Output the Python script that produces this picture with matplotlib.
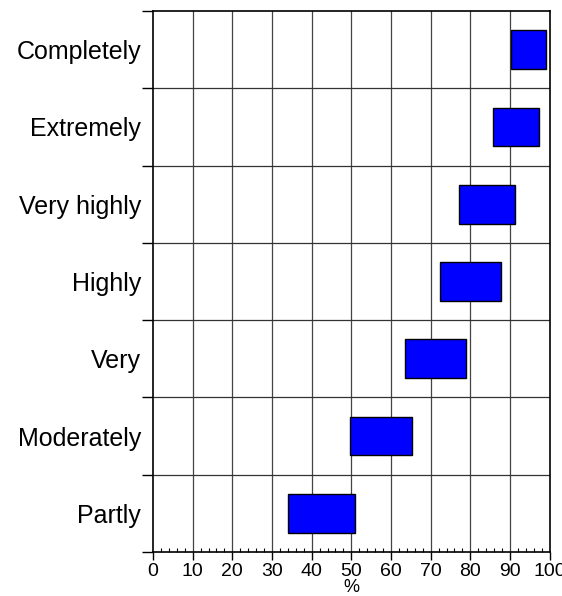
import matplotlib
matplotlib.use("Agg")
import matplotlib.pyplot as plt
from matplotlib.ticker import MultipleLocator

categories = ["Completely", "Extremely", "Very highly", "Highly", "Very", "Moderately", "Partly"]
low = [90.2, 85.6, 77.1, 72.3, 63.4, 49.7, 34.0]
high = [99.1, 97.4, 91.2, 87.7, 78.8, 65.2, 50.9]
xticks = [0, 10, 20, 30, 40, 50, 60, 70, 80, 90, 100]

plt.rcParams['font.family'] = ['Liberation Sans', 'DejaVu Sans']

fig = plt.figure(figsize=(5.62, 5.96), dpi=100)
ax = fig.add_axes([153/562, 44/596, (549.7-153)/562, (552-11)/596])

n = len(categories)
ypos = [n - 1 - i for i in range(n)]
widths = [h - l for l, h in zip(low, high)]
ax.barh(ypos, widths, left=low, height=0.5, color='#0000ff', edgecolor='black', linewidth=1.0, zorder=3)

ax.set_xlim(0, 100)
ax.set_ylim(-0.5, n - 0.5)

for x in xticks[1:-1]:
    ax.axvline(x, color='#444444', linewidth=0.9, zorder=1)
for k in range(1, n):
    ax.axhline(k - 0.5, color='#333333', linewidth=0.9, zorder=1)

ax.set_yticks(ypos)
ax.set_yticklabels(categories, fontsize=18)
ax.tick_params(axis='y', which='major', length=0, pad=8.5)
ax.set_yticks([k - 0.5 for k in range(n + 1)], minor=True)
ax.tick_params(axis='y', which='minor', length=8, width=1.0, direction='out')

ax.set_xticks(xticks)
ax.set_xticklabels([str(v) for v in xticks], fontsize=14)
ax.xaxis.set_minor_locator(MultipleLocator(2))
ax.tick_params(axis='x', which='major', length=6, width=1.0, direction='out', pad=2)
ax.tick_params(axis='x', which='minor', length=3, width=0.8, direction='in')
ax.set_xlabel('%', fontsize=13, labelpad=-1)

for s in ax.spines.values():
    s.set_linewidth(1.2)

fig.savefig('out.png', dpi=100)
